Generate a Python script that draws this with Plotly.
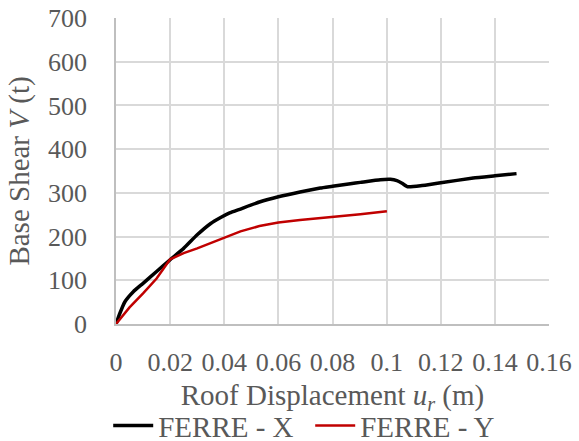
import plotly.graph_objects as go

# Pushover curves: roof displacement (m) vs base shear (t)
ferre_x_disp = [0, 0.0014, 0.0033, 0.0064, 0.010, 0.015, 0.020, 0.025, 0.030, 0.035,
                0.0385, 0.042, 0.046, 0.053, 0.060, 0.068, 0.0755, 0.080, 0.0866, 0.0903,
                0.0977, 0.1014, 0.1038, 0.1057, 0.1078, 0.1125, 0.120, 0.132, 0.140, 0.148]
ferre_x_shear = [0, 24, 51, 74, 93, 120, 147, 173, 204, 230,
                 243, 254, 263, 279, 291, 302, 311, 315, 321, 324,
                 330, 331, 328, 322, 314, 316, 323, 334, 339, 344]

ferre_y_disp = [0, 0.005, 0.010, 0.015, 0.020, 0.025, 0.030, 0.035, 0.040, 0.046,
                0.053, 0.060, 0.068, 0.0755, 0.080, 0.0866, 0.0903, 0.1001]
ferre_y_shear = [0, 38, 70, 104, 148, 162, 173, 185, 196, 212,
                 224, 232, 238, 242, 244, 249, 251, 258]

x_ticks = [0, 0.02, 0.04, 0.06, 0.08, 0.10, 0.12, 0.14, 0.16]
x_tick_text = ["0", "0.02", "0.04", "0.06", "0.08", "0.1", "0.12", "0.14", "0.16"]
y_ticks = [0, 100, 200, 300, 400, 500, 600, 700]

FONT = "Liberation Serif, Times New Roman, serif"
TEXT_COLOR = "#595959"
GRID = "#d9d9d9"

fig = go.Figure()
fig.add_trace(go.Scatter(x=ferre_x_disp, y=ferre_x_shear, mode="lines",
                         name="FERRE - X",
                         line=dict(color="#000000", width=3.5, shape="spline", smoothing=0.4)))
fig.add_trace(go.Scatter(x=ferre_y_disp, y=ferre_y_shear, mode="lines",
                         name="FERRE - Y",
                         line=dict(color="#c00000", width=2.5)))

fig.update_layout(
    width=579, height=441,
    margin=dict(l=116, r=30, t=18, b=117, autoexpand=False),
    paper_bgcolor="white", plot_bgcolor="white",
    font=dict(family=FONT, color=TEXT_COLOR, size=26),
    showlegend=True,
    legend=dict(orientation="h", x=-0.018, y=-0.332, xanchor="left", yanchor="middle",
                font=dict(size=29, color=TEXT_COLOR, family=FONT),
                bgcolor="rgba(0,0,0,0)", itemwidth=40, tracegroupgap=0,
                entrywidth=147),
    xaxis=dict(
        range=[0, 0.16], tickvals=x_ticks, ticktext=x_tick_text, tickangle=0,
        automargin=False,
        showgrid=True, gridcolor=GRID, gridwidth=1.5,
        showline=True, linecolor="#bfbfbf", linewidth=1.5,
        zeroline=False, ticks="outside", ticklen=14, tickcolor="rgba(0,0,0,0)",
        tickfont=dict(size=26, family=FONT, color=TEXT_COLOR),
        title=dict(text="Roof Displacement <i>u<sub>r</sub></i> (m)", standoff=9,
                   font=dict(size=29, family=FONT, color=TEXT_COLOR)),
    ),
    yaxis=dict(
        range=[0, 700], tickvals=y_ticks, automargin=False,
        showgrid=True, gridcolor=GRID, gridwidth=1.5,
        showline=True, linecolor="#bfbfbf", linewidth=1.5,
        zeroline=False, ticks="outside", ticklen=22, tickcolor="rgba(0,0,0,0)",
        tickfont=dict(size=26, family=FONT, color=TEXT_COLOR),
        title=dict(text="Base Shear <i>V</i> (t)", standoff=10,
                   font=dict(size=29, family=FONT, color=TEXT_COLOR)),
    ),
)

fig.write_html("out.html")
